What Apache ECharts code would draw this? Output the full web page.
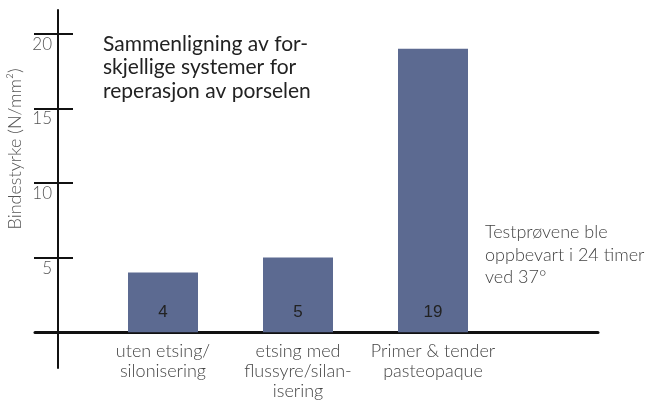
<!DOCTYPE html>
<html>
<head>
<meta charset="utf-8">
<script src="https://cdn.jsdelivr.net/npm/echarts@6/dist/echarts.min.js"></script>
<style>
  html, body { margin: 0; padding: 0; background: #fff; }
  #chart { width: 652px; height: 414px; }
</style>
</head>
<body>
<div id="chart"></div>
<script>
// data
const categories = ['uten etsing/\nsilonisering', 'etsing med\nflussyre/silan-\nisering', 'Primer & tender\npasteopaque'];
const values = [4, 5, 19];
const yTicks = [5, 10, 15, 20];

const yMin = -2.4, yMax = 21.6;
const lightFont = 'Lato';

// plot area: top 10, bottom 46 -> height 358; lift the category labels up to the zero line
const plotTop = 10, plotBottom = 46;
const plotH = 414 - plotTop - plotBottom;
const zeroLift = (0 - yMin) / (yMax - yMin) * plotH;

const chart = echarts.init(document.getElementById('chart'));
chart.setOption({
    animation: false,
    grid: [
        // frame with the axis lines
        { left: 35, right: 54, top: plotTop, bottom: plotBottom, outerBoundsMode: 'none', containLabel: false },
        // bars
        { left: 95.5, right: 151.5, top: plotTop, bottom: plotBottom, outerBoundsMode: 'none', containLabel: false }
    ],
    xAxis: [
        {
            gridIndex: 0, type: 'value', min: 0, max: 1,
            axisLine: { show: true, onZero: true, lineStyle: { color: '#111', width: 3 } },
            axisTick: { show: false }, axisLabel: { show: false }, splitLine: { show: false }
        },
        {
            gridIndex: 1, type: 'category', data: categories, offset: -zeroLift,
            axisLine: { show: false, onZero: false },
            axisTick: { show: false },
            axisLabel: {
                interval: 0, color: '#444', fontSize: 18, lineHeight: 20, margin: 9,
                fontFamily: lightFont, fontWeight: 300
            }
        }
    ],
    yAxis: [
        {
            gridIndex: 0, type: 'value', position: 'left', min: yMin, max: yMax, offset: -23,
            axisLine: { show: true, onZero: false, lineStyle: { color: '#111', width: 2 } },
            axisTick: { show: true, customValues: yTicks, length: 24, lineStyle: { color: '#111', width: 2 } },
            axisLabel: {
                customValues: yTicks, color: '#555', fontSize: 17, margin: 6,
                fontFamily: lightFont, fontWeight: 300, verticalAlign: 'top', padding: [2, 0, 0, 0]
            },
            splitLine: { show: false }
        },
        {
            gridIndex: 0, type: 'value', position: 'left', min: yMin, max: yMax, offset: -23,
            axisLine: { show: false, onZero: false },
            axisTick: { show: true, inside: true, customValues: yTicks, length: 15, lineStyle: { color: '#111', width: 2 } },
            axisLabel: { show: false }, splitLine: { show: false }
        },
        {
            gridIndex: 1, type: 'value', min: yMin, max: yMax,
            axisLine: { show: false }, axisTick: { show: false },
            axisLabel: { show: false }, splitLine: { show: false }
        }
    ],
    graphic: [
        {
            type: 'text', left: 103, top: 32,
            style: {
                text: 'Sammenligning av for-\nskjellige systemer for\nreperasjon av porselen',
                fill: '#222', fontSize: 21, lineHeight: 23.5, fontFamily: lightFont
            }
        },
        {
            type: 'text', left: 485, top: 221,
            style: {
                text: 'Testprøvene ble\noppbevart i 24 timer\nved 37°',
                fill: '#444', fontSize: 18, lineHeight: 22.5, fontFamily: lightFont, fontWeight: 300
            }
        },
        {
            type: 'text', x: 15, y: 149, rotation: Math.PI / 2,
            style: {
                text: 'Bindestyrke (N/mm²)', fill: '#555', fontSize: 18,
                fontFamily: lightFont, fontWeight: 300,
                align: 'center', verticalAlign: 'middle'
            }
        }
    ],
    series: [
        {
            type: 'bar', xAxisIndex: 1, yAxisIndex: 2,
            data: values, barWidth: 70,
            itemStyle: { color: '#5c6a91' },
            label: {
                show: true, position: 'insideBottom', distance: 11,
                color: '#222', fontSize: 17, fontFamily: 'Liberation Sans'
            }
        }
    ]
});
</script>
</body>
</html>
